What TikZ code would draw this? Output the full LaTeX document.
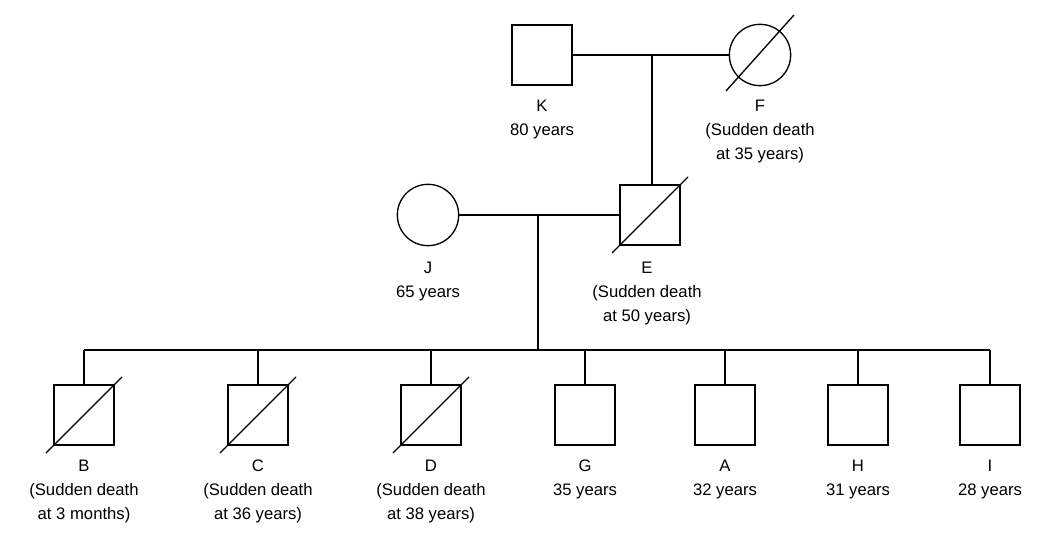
\documentclass[tikz,border=0pt]{standalone}
\usepackage{fontspec}
\setmainfont{Liberation Sans}
\usetikzlibrary{calc}
\tikzset{
  male/.style = {draw, rectangle, line width = 1pt, minimum width = 45pt, minimum height = 45pt},
  female/.style = {draw, circle, line width = 1pt, minimum size = 46pt},
  lbl/.style = {align = center, font = \fontsize{12.5}{18}\selectfont, anchor = north, inner sep = 0pt},
  link/.style = {line width = 1pt}
}
\begin{document}
\begin{tikzpicture}[x = 0.75pt, y = -0.75pt]
        \useasboundingbox (0, 0) rectangle (1044, 552);

        % Generation I
        \node [male] (K) at (542, 55) {};
        \node [female] (F) at (760, 55) {};
        \draw [link] ($(F.center)+(-34, 36)$) -- ($(F.center)+(34, -40)$);

        % Generation II
        \node [female] (J) at (428, 215) {};
        \node [male] (E) at (650, 215) {};
        \draw [link] ($(E.center)+(-38, 38)$) -- ($(E.center)+(38, -38)$);

        % Generation III
        \node [male] (B) at (84, 415) {};
        \node [male] (C) at (258, 415) {};
        \node [male] (D) at (431, 415) {};
        \node [male] (G) at (585, 415) {};
        \node [male] (A) at (725, 415) {};
        \node [male] (H) at (858, 415) {};
        \node [male] (I) at (990, 415) {};
        \foreach \p in {B, C, D}
            \draw [link] ($(\p.center)+(-38, 38)$) -- ($(\p.center)+(38, -38)$);

        % Draw the links
        \coordinate (m1) at (652, 55);
        \coordinate (m2) at (538, 215);
        \coordinate (s) at (538, 350);
        \draw [link] (K) -- (F);
        \draw [link] (m1) -- (E.north -| m1);
        \draw [link] (J) -- (E);
        \draw [link] (m2) -- (s);
        \draw [link] (B.north |- s) -- (I.north |- s);
        \foreach \p in {B, C, D, G, A, H, I}
            \draw [link] (\p.north |- s) -- (\p.north);

        % Labels
        \node [lbl] (lK) at (542, 100) {K\\80 years};
        \node [lbl] (lF) at (760, 100) {F\\(Sudden death\\at 35 years)};
        \node [lbl] (lJ) at (428, 262) {J\\65 years};
        \node [lbl] (lE) at (647, 262) {E\\(Sudden death\\at 50 years)};
        \node [lbl] (lB) at (84, 460) {B\\(Sudden death\\at 3 months)};
        \node [lbl] (lC) at (258, 460) {C\\(Sudden death\\at 36 years)};
        \node [lbl] (lD) at (431, 460) {D\\(Sudden death\\at 38 years)};
        \node [lbl] (lG) at (585, 460) {G\\35 years};
        \node [lbl] (lA) at (725, 460) {A\\32 years};
        \node [lbl] (lH) at (858, 460) {H\\31 years};
        \node [lbl] (lI) at (990, 460) {I\\28 years};
    \end{tikzpicture}
\end{document}
